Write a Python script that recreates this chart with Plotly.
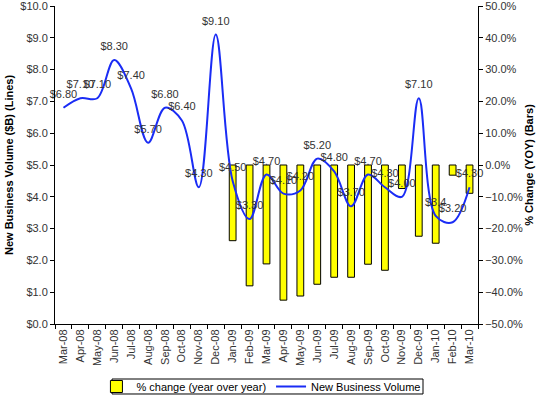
import plotly.graph_objects as go

months = ["Mar-08", "Apr-08", "May-08", "Jun-08", "Jul-08", "Aug-08", "Sep-08", "Oct-08",
          "Nov-08", "Dec-08", "Jan-09", "Feb-09", "Mar-09", "Apr-09", "May-09", "Jun-09",
          "Jul-09", "Aug-09", "Sep-09", "Oct-09", "Nov-09", "Dec-09", "Jan-10", "Feb-10", "Mar-10"]
volume = [6.8, 7.1, 7.1, 8.3, 7.4, 5.7, 6.8, 6.4, 4.3, 9.1, 4.5, 3.3, 4.7, 4.1, 4.2, 5.2,
          4.8, 3.7, 4.7, 4.3, 4.0, 7.1, 3.4, 3.2, 4.3]
volume_labels = ["$6.80", "$7.10", "$7.10", "$8.30", "$7.40", "$5.70", "$6.80", "$6.40",
                 "$4.30", "$9.10", "$4.50", "$3.30", "$4.70", "$4.10", "$4.20", "$5.20",
                 "$4.80", "$3.70", "$4.70", "$4.30", "$4.00", "$7.10", "$3.4", "$3.20", "$4.30"]
pct_change = [None, None, None, None, None, None, None, None, None, None,
              -0.238, -0.380, -0.311, -0.425, -0.412, -0.375, -0.353, -0.353, -0.312,
              -0.331, -0.074, -0.224, -0.246, -0.032, -0.089]

FONT = "Liberation Sans, Arial, sans-serif"

fig = go.Figure()
fig.add_trace(go.Bar(
    x=months, y=pct_change, name="% change (year over year)",
    marker=dict(color="#ffff00", line=dict(color="#000000", width=1)),
    yaxis="y", width=0.4,
))
fig.add_trace(go.Scatter(
    x=months, y=volume, name="New Business Volume", yaxis="y2",
    mode="lines", line=dict(color="#1a2cf5", width=2, shape="spline", smoothing=1.0),
))
fig.add_trace(go.Scatter(
    x=months, y=volume, yaxis="y2", showlegend=False, hoverinfo="skip",
    mode="markers+text", marker=dict(size=10, opacity=0), cliponaxis=False,
    text=volume_labels, textposition="top center",
    textfont=dict(family=FONT, size=11, color="#333333"),
))

axis_common = dict(showline=True, linecolor="#000000", ticks="outside", ticklen=4,
                   tickcolor="#000000", showgrid=False, zeroline=False, automargin=False,
                   ticklabeloverflow="allow", tickfont=dict(size=11, color="#333333"))

fig.update_layout(
    width=540, height=395,
    margin=dict(l=55, r=62, t=6, b=71, autoexpand=False),
    paper_bgcolor="white", plot_bgcolor="white",
    font=dict(family=FONT, size=11, color="#333333"),
    showlegend=True,
    legend=dict(orientation="h", x=0.488, xanchor="center", y=-0.1965, yanchor="middle",
                bgcolor="rgba(0,0,0,0)", borderwidth=0,
                font=dict(size=11, color="#000000"), tracegroupgap=0),
    shapes=[dict(type="rect", xref="paper", yref="paper", x0=0.1348, x1=0.870,
                 y0=-0.2201, y1=-0.173, line=dict(color="#000000", width=1))],
    bargap=0.6,
    xaxis=dict(type="category", range=[-0.5, len(months) - 0.5], tickangle=-90,
               tickson="boundaries", **axis_common),
    yaxis=dict(side="right", range=[-0.5, 0.5], dtick=0.1, tickformat=".1%",
               title=dict(text="<b>% Change (YOY) (Bars)</b>", standoff=2,
                          font=dict(size=11, color="#000000")), **axis_common),
    yaxis2=dict(side="left", overlaying="y", range=[0, 10], dtick=1, tickprefix="$",
                tickformat=".1f",
                title=dict(text="<b>New Business Volume ($B) (Lines)</b>", standoff=4,
                           font=dict(size=11, color="#000000")), **axis_common),
)

fig.write_html("out.html", config={"displayModeBar": False},
               post_script="document.body.style.margin='0';")
